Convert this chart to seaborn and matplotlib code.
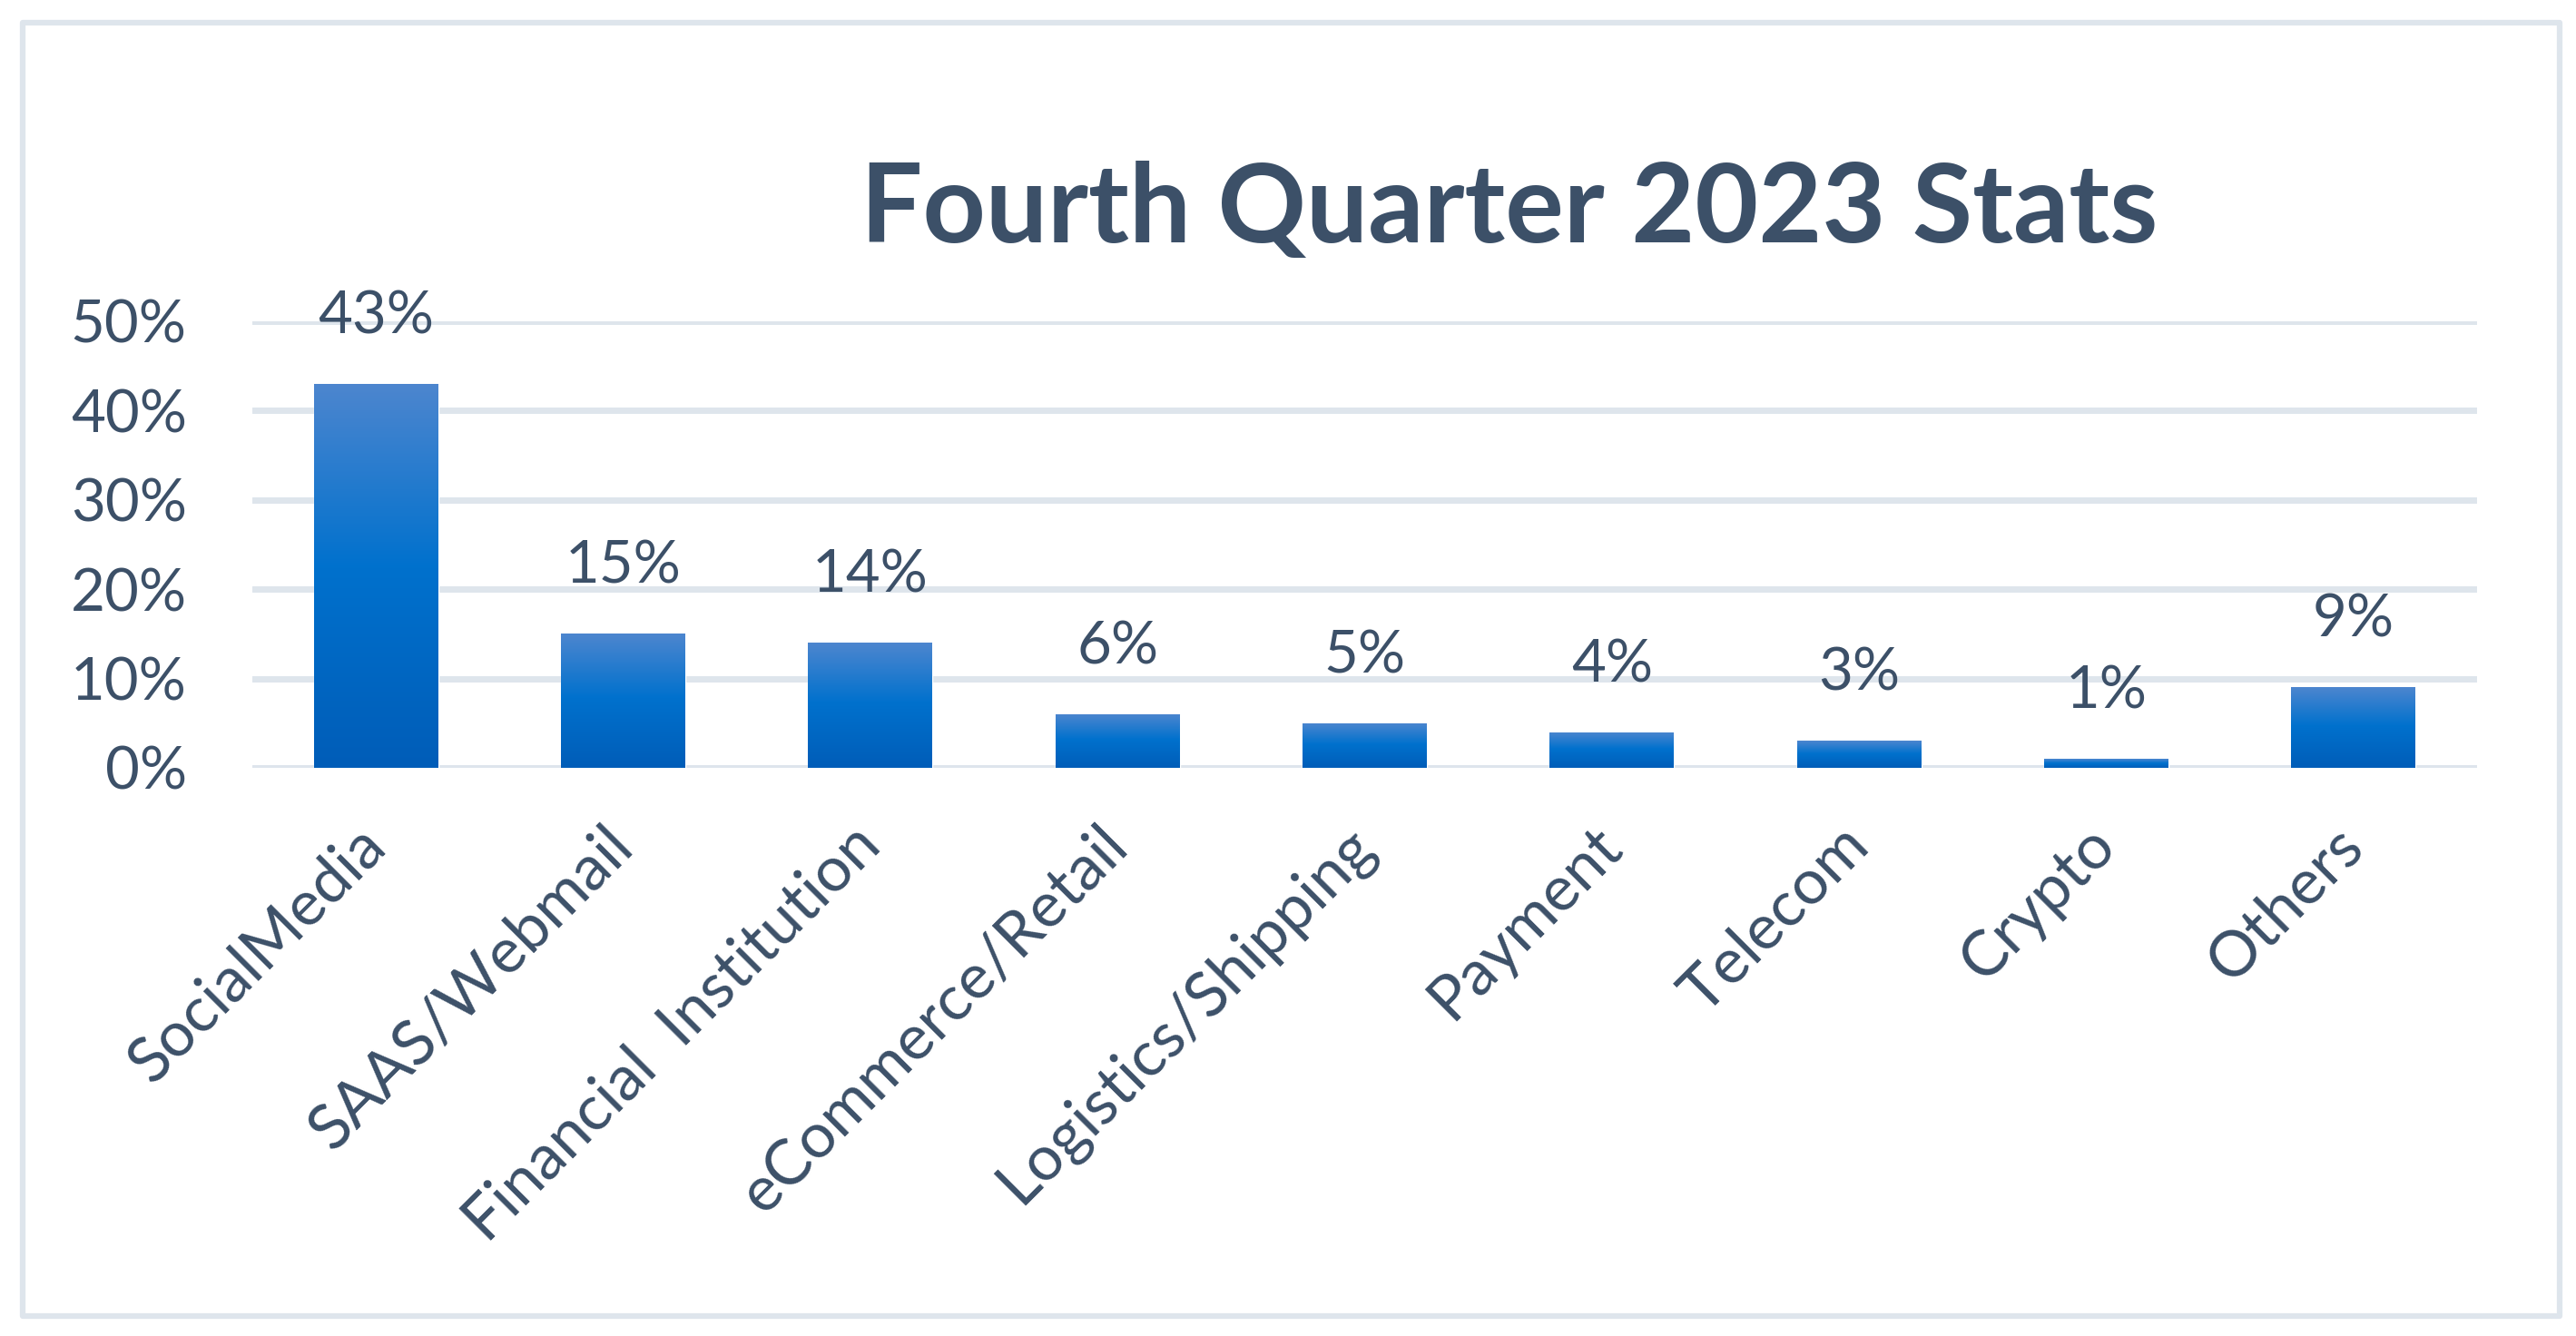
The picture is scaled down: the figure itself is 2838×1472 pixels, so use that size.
import numpy as np
import pandas as pd
import matplotlib
matplotlib.use("Agg")
import matplotlib.pyplot as plt
import seaborn as sns
from matplotlib.patches import Rectangle
from matplotlib.colors import LinearSegmentedColormap

# ---- data ----
categories = ["SocialMedia", "SAAS/Webmail", "Financial  Institution", "eCommerce/Retail",
              "Logistics/Shipping", "Payment", "Telecom", "Crypto", "Others"]
values = [43, 15, 14, 6, 5, 4, 3, 1, 9]
value_labels = ["43%", "15%", "14%", "6%", "5%", "4%", "3%", "1%", "9%"]
y_ticks = [0, 10, 20, 30, 40, 50]
y_tick_labels = ["0%", "10%", "20%", "30%", "40%", "50%"]
title = "Fourth Quarter 2023 Stats"

# ---- style ----
W, H, DPI = 2838, 1472, 100
TEXT = "#3C5068"
GRID = "#DEE5EC"
sns.set_theme(style="white")
plt.rcParams["font.family"] = ["Lato", "DejaVu Sans"]

fig = plt.figure(figsize=(W / DPI, H / DPI), dpi=DPI)
fig.patch.set_facecolor("white")

ax = fig.add_axes([278 / W, 1 - 846 / H, (2729 - 278) / W, (846 - 354) / H])
df = pd.DataFrame({"category": categories, "value": values})
sns.barplot(data=df, x="category", y="value", ax=ax, width=0.503,
            color="#0070CC", saturation=1, zorder=2)

# gradient fill on each bar
cmap = LinearSegmentedColormap.from_list(
    "bar", [(0.0, "#005DB8"), (0.52, "#0071CD"), (1.0, "#4D86CF")])
grad = np.linspace(0, 1, 256).reshape(-1, 1)
for p in ax.patches:
    x0, y0, w, h = p.get_x(), p.get_y(), p.get_width(), p.get_height()
    im = ax.imshow(grad, extent=[x0, x0 + w, y0, y0 + h], origin="lower",
                   aspect="auto", cmap=cmap, zorder=3, interpolation="bilinear")
    im.set_clip_path(p)

ax.set_xlim(-0.5, len(categories) - 0.5)
ax.set_ylim(0, 50)
ax.set_aspect("auto")

for yv in y_ticks:
    ax.axhline(yv, color=GRID, lw=5, zorder=1)

for s in ax.spines.values():
    s.set_visible(False)
ax.set_xlabel("")
ax.set_ylabel("")
ax.set_yticks(y_ticks)
ax.set_yticklabels(y_tick_labels)
ax.tick_params(axis="y", length=0, pad=52, labelsize=47, labelcolor=TEXT)
ax.set_xticks(range(len(categories)))
ax.set_xticklabels(categories, rotation=45, ha="right", va="center",
                   rotation_mode="anchor")
ax.tick_params(axis="x", length=0, pad=54, labelsize=50, labelcolor=TEXT)

for p, lab in zip(ax.patches, value_labels):
    ax.annotate(lab, (p.get_x() + p.get_width() / 2, p.get_height()),
                xytext=(0, 40), textcoords="offset points",
                ha="center", va="baseline", fontsize=47, color=TEXT,
                annotation_clip=False)

fig.text(1663 / W, 1 - 267 / H, title, ha="center", va="baseline",
         fontsize=87, fontweight="bold", color=TEXT)

# outer frame
fig.add_artist(Rectangle((25 / W, 1 - 1450 / H), (2820 - 25) / W, (1450 - 25) / H,
                         transform=fig.transFigure, fill=False, edgecolor=GRID,
                         linewidth=4.5, joinstyle="round"))

fig.savefig("out.png", dpi=DPI, facecolor="white")
